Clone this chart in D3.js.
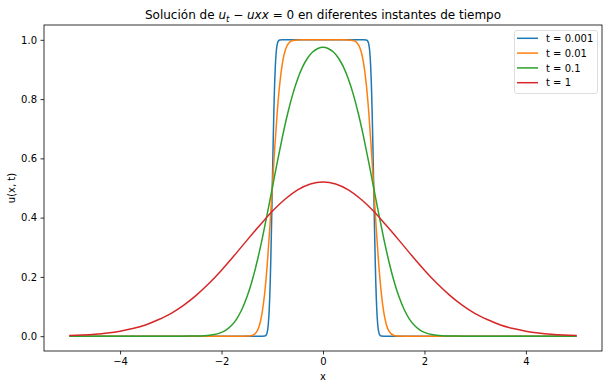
<!DOCTYPE html>
<html>
<head>
<meta charset="utf-8">
<script src="https://cdn.jsdelivr.net/npm/d3@7"></script>
<style>
  body { margin: 0; background: #fff; }
  text { font-family: "DejaVu Sans", sans-serif; fill: #000; }
</style>
</head>
<body>
<script>
// values
var labels = ["t = 0.001", "t = 0.01", "t = 0.1", "t = 1"];
var colors = ["#1f77b4", "#ff7f0e", "#2ca02c", "#d62728"];

var x001 = [-5, -1.2, -1.15, -1.12, -1.1, -1.08, -1.06, -1.05, -1.04, -1.03, -1.02, -1.01, -1,
  -0.99, -0.98, -0.97, -0.96, -0.95, -0.94, -0.92, -0.9, -0.88, -0.85, -0.8, 0,
  0.8, 0.85, 0.88, 0.9, 0.92, 0.94, 0.95, 0.96, 0.97, 0.98, 0.99, 1,
  1.01, 1.02, 1.03, 1.04, 1.05, 1.06, 1.08, 1.1, 1.12, 1.15, 1.2, 5];
var u001 = [0, 0, 0.0004, 0.0037, 0.0127, 0.0369, 0.0899, 0.1318, 0.1856, 0.2512, 0.3274, 0.4116, 0.5,
  0.5884, 0.6726, 0.7488, 0.8144, 0.8682, 0.9101, 0.9631, 0.9873, 0.9963, 0.9996, 1, 1,
  1, 0.9996, 0.9963, 0.9873, 0.9631, 0.9101, 0.8682, 0.8144, 0.7488, 0.6726, 0.5884, 0.5,
  0.4116, 0.3274, 0.2512, 0.1856, 0.1318, 0.0899, 0.0369, 0.0127, 0.0037, 0.0004, 0, 0];

var x01 = [-5, -1.6, -1.5, -1.4, -1.3, -1.25, -1.2, -1.15, -1.1, -1.05, -1,
  -0.95, -0.9, -0.85, -0.8, -0.75, -0.7, -0.6, -0.5, -0.4, 0,
  0.4, 0.5, 0.6, 0.7, 0.75, 0.8, 0.85, 0.9, 0.95, 1,
  1.05, 1.1, 1.15, 1.2, 1.25, 1.3, 1.4, 1.5, 1.6, 5];
var u01 = [0, 0, 0.0002, 0.0023, 0.0169, 0.0385, 0.0786, 0.1444, 0.2397, 0.3618, 0.5,
  0.6382, 0.7603, 0.8556, 0.9214, 0.9615, 0.9831, 0.9977, 0.9998, 1, 1,
  1, 0.9998, 0.9977, 0.9831, 0.9615, 0.9214, 0.8556, 0.7603, 0.6382, 0.5,
  0.3618, 0.2397, 0.1444, 0.0786, 0.0385, 0.0169, 0.0023, 0.0002, 0, 0];

var x1 = [-5, -4, -3, -2.6, -2.4, -2.2, -2, -1.9, -1.8, -1.7, -1.6, -1.5, -1.4, -1.3, -1.2, -1.1, -1,
  -0.9, -0.8, -0.7, -0.6, -0.5, -0.4, -0.3, -0.2, -0.1, 0,
  0.1, 0.2, 0.3, 0.4, 0.5, 0.6, 0.7, 0.8, 0.9, 1,
  1.1, 1.2, 1.3, 1.4, 1.5, 1.6, 1.7, 1.8, 1.9, 2, 2.2, 2.4, 2.6, 3, 4, 5];
var u1 = [0, 0, 0, 0.0002, 0.0009, 0.0037, 0.0127, 0.0223, 0.0369, 0.0587, 0.0899, 0.1318, 0.1856, 0.2512, 0.3274, 0.4116, 0.5,
  0.5884, 0.6726, 0.7488, 0.8143, 0.8678, 0.9093, 0.9394, 0.9595, 0.9708, 0.9747,
  0.9708, 0.9595, 0.9394, 0.9093, 0.8678, 0.8143, 0.7488, 0.6726, 0.5884, 0.5,
  0.4116, 0.3274, 0.2512, 0.1856, 0.1318, 0.0899, 0.0587, 0.0369, 0.0223, 0.0127, 0.0037, 0.0009, 0.0002, 0, 0, 0];

var xT1 = [-5, -4.75, -4.5, -4.25, -4, -3.75, -3.5, -3.25, -3, -2.75, -2.5, -2.25, -2, -1.75, -1.5, -1.25, -1,
  -0.75, -0.5, -0.25, 0, 0.25, 0.5, 0.75,
  1, 1.25, 1.5, 1.75, 2, 2.25, 2.5, 2.75, 3, 3.25, 3.5, 3.75, 4, 4.25, 4.5, 4.75, 5];
var uT1 = [0.0023, 0.0040, 0.0066, 0.0107, 0.0168, 0.0256, 0.0378, 0.0553, 0.0763, 0.1040, 0.1378, 0.1776, 0.2228, 0.2721, 0.3233, 0.3733, 0.4214,
  0.4622, 0.4938, 0.5137, 0.5205, 0.5137, 0.4938, 0.4622,
  0.4214, 0.3733, 0.3233, 0.2721, 0.2228, 0.1776, 0.1378, 0.1040, 0.0763, 0.0553, 0.0378, 0.0256, 0.0168, 0.0107, 0.0066, 0.0040, 0.0023];

var xTicks = [-4, -2, 0, 2, 4];
var yTicks = [0, 0.2, 0.4, 0.6, 0.8, 1.0];

function init() {
  var w = 609, h = 389;
  var left = 44, right = 602, top = 25, bottom = 351;

  var series = [[x001, u001], [x01, u01], [x1, u1], [xT1, uT1]].map(function(s, k) {
    return { label: labels[k], color: colors[k],
      points: s[0].map(function(x, i) { return [x, s[1][i]]; }) };
  });

  var xScale = d3.scaleLinear().domain([-5.5, 5.5]).range([left, right]);
  var yScale = d3.scaleLinear().domain([-0.05, 1.05]).range([bottom, top]);

  var svg = d3.select("body").append("svg")
    .attr("width", w)
    .attr("height", h);

  var line = d3.line()
    .x(function(d) { return xScale(d[0]); })
    .y(function(d) { return yScale(d[1]); })
    .curve(d3.curveMonotoneX);

  svg.append("defs").append("clipPath").attr("id", "clip")
    .append("rect")
    .attr("x", left).attr("y", top)
    .attr("width", right - left).attr("height", bottom - top);

  svg.append("g").attr("clip-path", "url(#clip)")
    .selectAll("path")
    .data(series)
    .enter()
    .append("path")
    .attr("d", function(d) { return line(d.points); })
    .attr("fill", "none")
    .attr("stroke", function(d) { return d.color; })
    .attr("stroke-width", 1.5)
    .attr("stroke-linejoin", "round");

  var fmtX = function(d) { return d < 0 ? "\u2212" + Math.abs(d) : String(d); };

  var xAxis = svg.append("g")
    .attr("transform", "translate(0," + bottom + ")")
    .call(d3.axisBottom(xScale).tickValues(xTicks).tickFormat(fmtX).tickSize(3.5).tickPadding(3.5));
  var yAxis = svg.append("g")
    .attr("transform", "translate(" + left + ",0)")
    .call(d3.axisLeft(yScale).tickValues(yTicks).tickFormat(d3.format(".1f")).tickSize(3.5).tickPadding(3.5));

  [xAxis, yAxis].forEach(function(a) {
    a.select(".domain").remove();
    a.selectAll(".tick line").attr("stroke", "#000").attr("stroke-width", 0.8);
    a.selectAll(".tick text").attr("font-size", 10).attr("font-family", "DejaVu Sans").attr("fill", "#000");
  });

  svg.append("rect")
    .attr("x", left).attr("y", top)
    .attr("width", right - left).attr("height", bottom - top)
    .attr("fill", "none")
    .attr("stroke", "#000")
    .attr("stroke-width", 0.8);

  // axis labels
  svg.append("text")
    .attr("x", (left + right) / 2).attr("y", 380)
    .attr("text-anchor", "middle").attr("font-size", 10)
    .text("x");
  svg.append("text")
    .attr("transform", "translate(15," + (top + bottom) / 2 + ") rotate(-90)")
    .attr("text-anchor", "middle").attr("font-size", 10)
    .text("u(x, t)");

  // title with the math part
  var title = svg.append("text")
    .attr("x", (left + right) / 2).attr("y", 19)
    .attr("text-anchor", "middle").attr("font-size", 12);
  title.append("tspan").text("Solución de ");
  title.append("tspan").attr("font-style", "italic").text("u");
  title.append("tspan").attr("font-style", "italic").attr("font-size", 8.5).attr("dy", 2.5).text("t");
  title.append("tspan").attr("dy", -2.5).text(" \u2212 ");
  title.append("tspan").attr("font-style", "italic").text("uxx");
  title.append("tspan").text(" = 0 en diferentes instantes de tiempo");

  // legend
  var lg = svg.append("g");
  lg.append("rect")
    .attr("x", 514.5).attr("y", 30.5)
    .attr("width", 83).attr("height", 63)
    .attr("rx", 2.5)
    .attr("fill", "#fff").attr("fill-opacity", 0.8)
    .attr("stroke", "#d6d6d6").attr("stroke-width", 0.8);
  var rows = lg.selectAll("g.row")
    .data(series)
    .enter()
    .append("g")
    .attr("class", "row")
    .attr("transform", function(d, i) { return "translate(0," + (38.3 + i * 14.8) + ")"; });
  rows.append("line")
    .attr("x1", 517).attr("x2", 538)
    .attr("stroke", function(d) { return d.color; })
    .attr("stroke-width", 1.5);
  rows.append("text")
    .attr("x", 546).attr("y", 3.6)
    .attr("font-size", 10)
    .text(function(d) { return d.label; });
}

window.onload = init;
</script>
</body>
</html>
